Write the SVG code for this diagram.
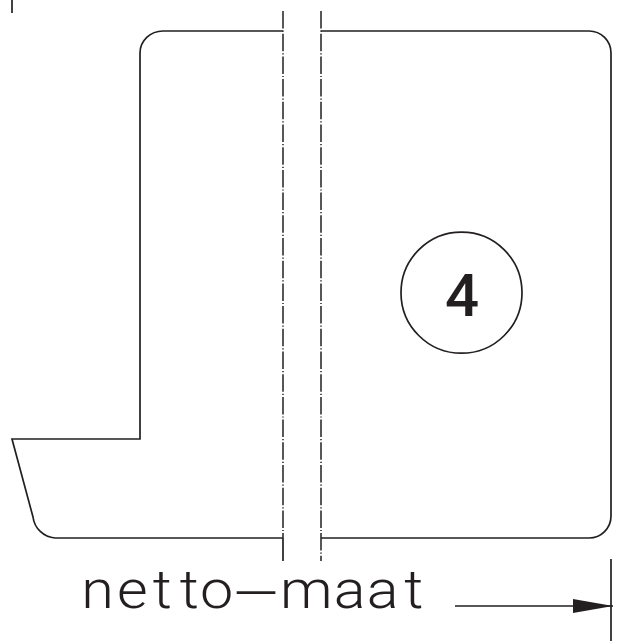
<svg xmlns="http://www.w3.org/2000/svg" width="620" height="641" viewBox="0 0 620 641">
<style>
.l{fill:none;stroke:#231f20;stroke-width:1.7}
.c{fill:none;stroke:#231f20;stroke-width:1.5;stroke-dasharray:17.5 2 1.2 2}
text{fill:#231f20}
</style>
<defs><marker id="a" markerUnits="userSpaceOnUse" markerWidth="40" markerHeight="16" refX="40" refY="7" orient="auto"><path d="M0 0L40 7L0 14Z" fill="#231f20"/></marker></defs>
<g id="connectors">
<path class="l" d="M12 0V13"/>
<path class="l" d="M611 559V641"/>
<path class="l" d="M455 606H613" marker-end="url(#a)"/>
</g>
<g id="part">
<path class="l" d="M283 31H163A23 22 0 0 0 140 53V439H12L33 517A24 24 0 0 0 55 538H283"/>
<path class="l" d="M321 31H589A22 22 0 0 1 611 53V516A22 22 0 0 1 589 538H321"/>
<path class="c" d="M283 11V538"/><path class="l" d="M283 538V561"/>
<path class="c" d="M321 11V561"/>
</g>
<g id="balloon">
<circle class="l" cx="461.5" cy="292.7" r="60.5"/>
<text x="462" y="316" font-family="Roboto,sans-serif" font-size="60" font-weight="500" text-anchor="middle">4</text>
</g>
<g id="label">
<text transform="scale(1.12 1)" y="608" x="72.5 104.5 136.5 160.5 178.5 208 250 298 327.5 361" dy="0 0 0 0 0 4 -4" font-family="Roboto,sans-serif" font-weight="300" font-size="53">netto—maat</text>
</g>
</svg>
